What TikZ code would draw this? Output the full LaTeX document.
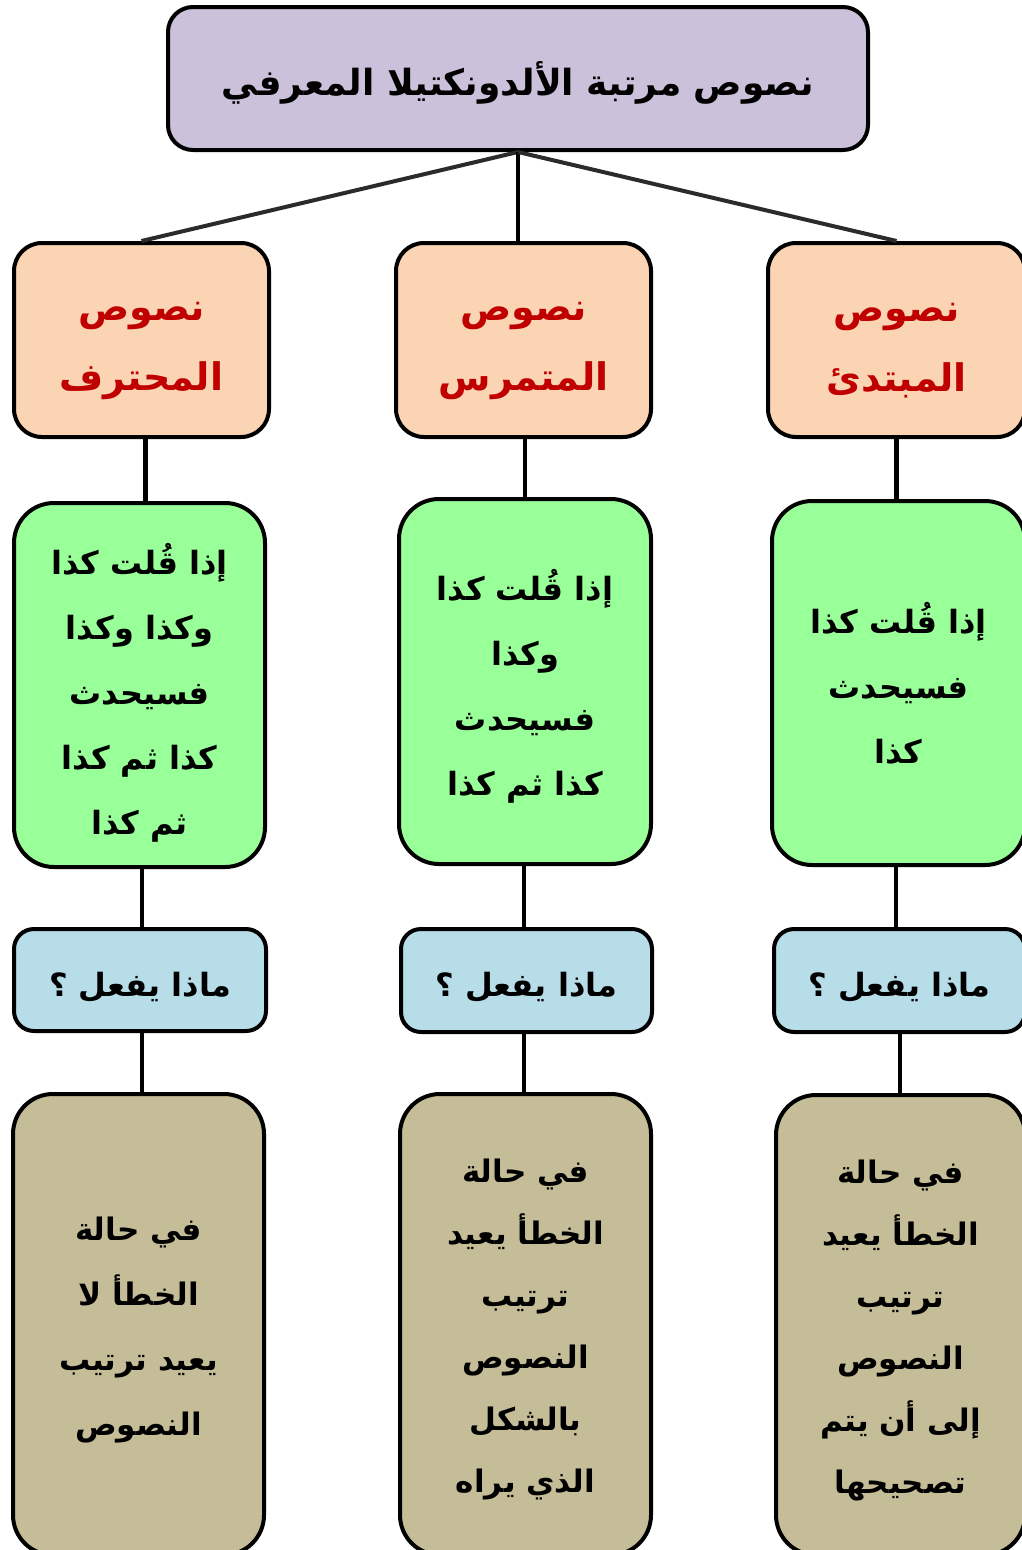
\documentclass[tikz,border=0pt]{standalone}
\usepackage{fontspec}
\TeXXeTstate=1
\newfontfamily\arabicfont[Script=Arabic]{DejaVu Sans}
\newcommand\ar[1]{{\arabicfont\bfseries\beginR #1\endR}}
\definecolor{lav}{HTML}{CCC1DA}
\definecolor{peach}{HTML}{FBD4B4}
\definecolor{lgreen}{HTML}{99FF99}
\definecolor{lblue}{HTML}{B7DDE8}
\definecolor{tan}{HTML}{C4BD97}
\definecolor{dred}{HTML}{C00000}
\definecolor{lineg}{HTML}{2B2B2B}
\tikzset{
  box/.style={draw=black, line width=4pt, rectangle, inner sep=0pt},
  txt/.style={inner sep=0pt, align=center},
  topbox/.style={box, fill=lav, rounded corners=25pt},
  toptxt/.style={txt, font=\fontsize{36}{44}\selectfont},
  lvlbox/.style={box, fill=peach, rounded corners=28pt},
  lvltxt/.style={txt, text=dred, font=\fontsize{38}{70}\selectfont},
  ifbox/.style={box, fill=lgreen, rounded corners=40pt},
  iftxt/.style={txt, font=\fontsize{32}{65}\selectfont},
  qbox/.style={box, fill=lblue, rounded corners=20pt},
  qtxt/.style={txt, font=\fontsize{32}{36}\selectfont},
  ansbox/.style={box, fill=tan, rounded corners=40pt},
  anstxt/.style={txt, font=\fontsize{31}{62}\selectfont},
  conn/.style={line width=4.5pt, black},
  slant/.style={line width=4pt, lineg}
}
\begin{document}
\begin{tikzpicture}[x=1pt,y=-1pt]
\useasboundingbox (0,0) rectangle (1021,1550);
% top
\node[topbox, minimum width=700pt, minimum height=143pt] (top) at (518,78.5) {};
\node[toptxt] (topt) at ([yshift=-4pt]top.center) {\ar{نصوص مرتبة الألدونكتيلا المعرفي}};
% level boxes
\node[lvlbox, minimum width=255pt, minimum height=194pt] (p1) at (141.5,340) {};
\node[lvlbox, minimum width=255pt, minimum height=194pt] (p2) at (523.5,340) {};
\node[lvlbox, minimum width=257pt, minimum height=194pt] (p3) at (896.5,340) {};
\node[lvltxt] (p1t) at ([yshift=-11pt]p1.center) {\ar{نصوص}\\\ar{المحترف}};
\node[lvltxt] (p2t) at ([yshift=-11pt]p2.center) {\ar{نصوص}\\\ar{المتمرس}};
\node[lvltxt] (p3t) at ([yshift=-11pt]p3.center) {\ar{نصوص}\\\ar{المبتدئ}};
% if boxes
\node[ifbox, minimum width=251pt, minimum height=364pt] (g1) at (139.5,685) {};
\node[ifbox, minimum width=252pt, minimum height=365pt] (g2) at (525,681.5) {};
\node[ifbox, minimum width=253pt, minimum height=364pt] (g3) at (898.5,683) {};
\node[iftxt] (g1t) at ([yshift=-8pt]g1.center) {\ar{إذا قُلت كذا}\\\ar{وكذا وكذا}\\\ar{فسيحدث}\\\ar{كذا ثم كذا}\\\ar{ثم كذا}};
\node[iftxt] (g2t) at ([yshift=-5pt]g2.center) {\ar{إذا قُلت كذا}\\\ar{وكذا}\\\ar{فسيحدث}\\\ar{كذا ثم كذا}};
\node[iftxt] (g3t) at (g3.center) {\ar{إذا قُلت كذا}\\\ar{فسيحدث}\\\ar{كذا}};
% question boxes
\node[qbox, minimum width=252pt, minimum height=102pt] (q1) at (140,980) {};
\node[qbox, minimum width=251pt, minimum height=103pt] (q2) at (526.5,980.5) {};
\node[qbox, minimum width=251pt, minimum height=103pt] (q3) at (899.5,980.5) {};
\node[qtxt] (q1t) at ([yshift=-7pt]q1.center) {\ar{ماذا يفعل ؟}};
\node[qtxt] (q2t) at ([yshift=-7pt]q2.center) {\ar{ماذا يفعل ؟}};
\node[qtxt] (q3t) at ([yshift=-7pt]q3.center) {\ar{ماذا يفعل ؟}};
% answer boxes
\node[ansbox, minimum width=251pt, minimum height=461pt] (a1) at (138.5,1324.5) {};
\node[ansbox, minimum width=251pt, minimum height=461pt] (a2) at (525.5,1324.5) {};
\node[ansbox, minimum width=249pt, minimum height=460pt] (a3) at (900.5,1325) {};
\node[anstxt] (a1t) at ([yshift=-5pt]a1.center) {\ar{في حالة}\\[3pt]\ar{الخطأ لا}\\[3pt]\ar{يعيد ترتيب}\\[3pt]\ar{النصوص}};
\node[anstxt] (a2t) at ([yshift=-5pt]a2.center) {\ar{في حالة}\\\ar{الخطأ يعيد}\\\ar{ترتيب}\\\ar{النصوص}\\\ar{بالشكل}\\\ar{الذي يراه}};
\node[anstxt] (a3t) at ([yshift=-5pt]a3.center) {\ar{في حالة}\\\ar{الخطأ يعيد}\\\ar{ترتيب}\\\ar{النصوص}\\\ar{إلى أن يتم}\\\ar{تصحيحها}};
% connectors from top
\draw[slant] (top.south) -- (p1.north);
\draw[conn] (top.south) -- (top.south |- p2.north);
\draw[slant] (top.south) -- (p3.north);
% vertical connectors
\draw[conn] ([xshift=4pt]p1.south) -- ([xshift=4pt]p1.south |- g1.north);
\draw[conn] ([xshift=1.5pt]p2.south) -- ([xshift=1.5pt]p2.south |- g2.north);
\draw[conn] (p3.south) -- (p3.south |- g3.north);
\draw[conn] ([xshift=2.5pt]g1.south) -- ([xshift=2.5pt]g1.south |- q1.north);
\draw[conn] ([xshift=-1pt]g2.south) -- ([xshift=-1pt]g2.south |- q2.north);
\draw[conn] ([xshift=-2.5pt]g3.south) -- ([xshift=-2.5pt]g3.south |- q3.north);
\draw[conn] ([xshift=2pt]q1.south) -- ([xshift=2pt]q1.south |- a1.north);
\draw[conn] ([xshift=-2.5pt]q2.south) -- ([xshift=-2.5pt]q2.south |- a2.north);
\draw[conn] ([xshift=0.5pt]q3.south) -- ([xshift=0.5pt]q3.south |- a3.north);
\end{tikzpicture}
\end{document}
